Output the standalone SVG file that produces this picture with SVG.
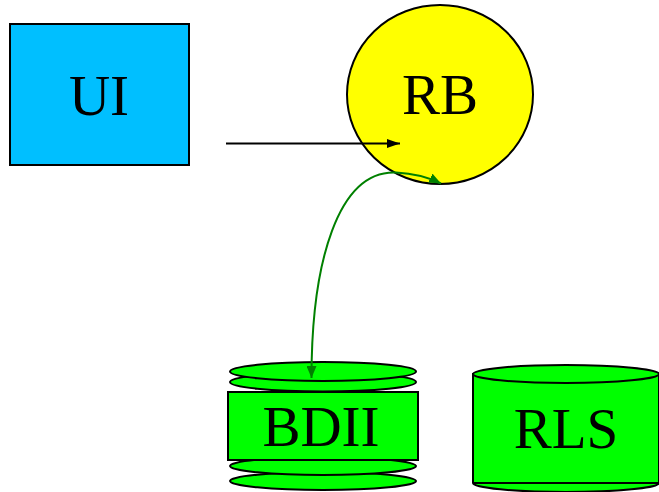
<svg xmlns="http://www.w3.org/2000/svg" width="659" height="492" viewBox="0 0 659 492">
  <defs>
    <style>
      .shape { stroke: #000; stroke-width: 2; }
      .label { font-family: "Liberation Serif", "Times New Roman", serif; font-size: 57px; text-anchor: middle; fill: #000; }
      .db { fill: #00ff00; }
    </style>
    <marker id="arrowBlack" viewBox="0 0 13 9" refX="13" refY="4.5" markerWidth="13" markerHeight="9" markerUnits="userSpaceOnUse" orient="auto">
      <path d="M0,0 L13,4.5 L0,9 Z" fill="#000"/>
    </marker>
    <marker id="arrowGreen" viewBox="0 0 12 10" refX="12" refY="5" markerWidth="12" markerHeight="10" markerUnits="userSpaceOnUse" orient="auto-start-reverse">
      <path d="M0,0 L12,5 L0,10 Z" fill="#008000"/>
    </marker>
  </defs>
  <rect width="659" height="492" fill="#fff"/>

  <g id="ui">
    <rect class="shape" x="10" y="24" width="179" height="141" fill="#00bfff"/>
    <text class="label" x="99" y="115">UI</text>
  </g>

  <g id="rb">
    <ellipse class="shape" cx="440" cy="94.5" rx="93" ry="89.5" fill="#ffff00"/>
    <text class="label" x="440" y="114">RB</text>
  </g>

  <g id="bdii">
    <ellipse class="shape db" cx="323" cy="481" rx="93" ry="9"/>
    <ellipse class="shape db" cx="323" cy="466" rx="93" ry="9"/>
    <ellipse class="shape db" cx="323" cy="382" rx="93" ry="9.5"/>
    <ellipse class="shape db" cx="323" cy="371.5" rx="93" ry="9.5"/>
    <rect class="shape db" x="228" y="392" width="190" height="68"/>
    <text class="label" x="321" y="446">BDII</text>
  </g>

  <g id="rls">
    <path class="shape db" d="M473,374 L473,483 A93,9 0 0 0 659,483 L659,374 Z"/>
    <line class="shape" x1="473" y1="483" x2="659" y2="483"/>
    <ellipse class="shape db" cx="566" cy="374" rx="93" ry="9"/>
    <text class="label" x="566" y="448">RLS</text>
  </g>

  <g id="connectors" fill="none">
    <line x1="226" y1="143.5" x2="400" y2="143.5" stroke="#000" stroke-width="2" marker-end="url(#arrowBlack)"/>
    <path d="M311.5,378 C311.5,262 338,170 396,172.5 C416,173.5 430,178 441,183.5" stroke="#008000" stroke-width="2" marker-start="url(#arrowGreen)" marker-end="url(#arrowGreen)"/>
  </g>
</svg>
